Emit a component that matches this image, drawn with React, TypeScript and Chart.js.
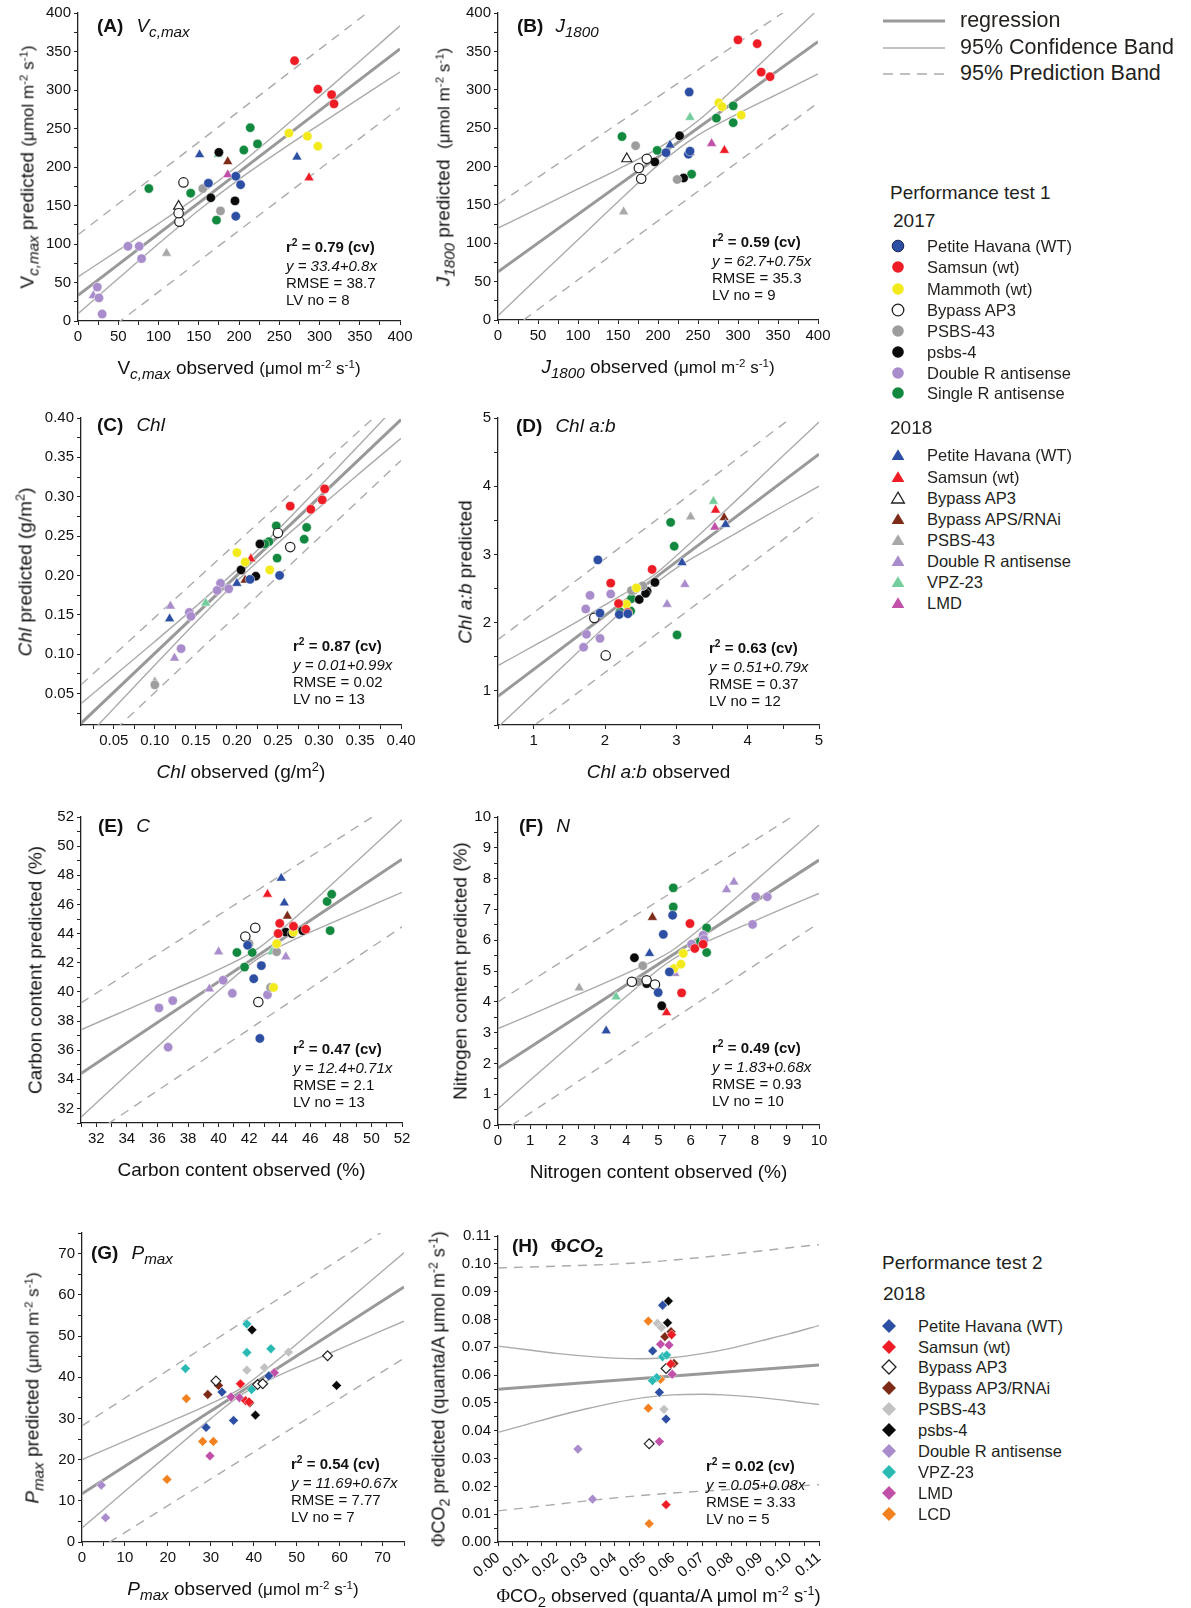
import { useEffect, useRef } from 'react';
import { Chart, ScatterController, LineController, LineElement, PointElement, LinearScale } from 'chart.js';

Chart.register(ScatterController, LineController, LineElement, PointElement, LinearScale);

const FONT = '"Liberation Sans", Arial, Helvetica, sans-serif';
const SERIF = '"Liberation Serif", "DejaVu Serif", serif';

type Pt = [string, number, number];
type XY = [number, number];

// ---------- (A) Vc,max ----------
const VCMAX_TICKS = [0, 50, 100, 150, 200, 250, 300, 350, 400];
const VCMAX_POINTS: Pt[] = [
  ['sam17', 269, 338], ['sam17', 298, 301], ['sam17', 315, 294], ['sam17', 318, 282],
  ['mam17', 262, 244], ['mam17', 285, 240], ['mam17', 298, 227],
  ['sglR17', 88, 172], ['sglR17', 140, 166], ['sglR17', 172, 131], ['sglR17', 206, 222], ['sglR17', 214, 251], ['sglR17', 223, 230],
  ['ph17', 162, 179], ['ph17', 196, 136], ['ph17', 196, 188], ['ph17', 202, 177],
  ['psbs4_17', 175, 219], ['psbs4_17', 165, 160], ['psbs4_17', 195, 156],
  ['psbs43_17', 155, 172], ['psbs43_17', 177, 143],
  ['ap3_17', 131, 180], ['ap3_17', 126, 129], ['ap3_17', 125, 140],
  ['dblR17', 62, 97], ['dblR17', 76, 97], ['dblR17', 79, 81], ['dblR17', 24, 44], ['dblR17', 26, 30], ['dblR17', 30, 9],
  ['ph18', 151, 216], ['ph18', 272, 213],
  ['sam18', 287, 186],
  ['vpz18', 174, 216],
  ['rnai18', 186, 207],
  ['lmd18', 186, 190],
  ['psbs43_18', 110, 88],
  ['ap3_18', 125, 149],
  ['dblR18', 19, 33],
];
const VCMAX_REG: XY[] = [[0, 33.4], [400, 353.4]];
const VCMAX_CI_UP: XY[] = [[0, 57.4], [50, 91.7], [100, 126.5], [150, 162.9], [200, 202.9], [250, 246.5], [300, 291.7], [350, 337.4], [400, 383.4]];
const VCMAX_CI_LO: XY[] = [[0, 9.4], [50, 55.1], [100, 100.3], [150, 143.9], [200, 183.9], [250, 220.3], [300, 255.1], [350, 289.4], [400, 323.4]];
const VCMAX_PI_UP: XY[] = [[0, 112], [400, 433]];
const VCMAX_PI_LO: XY[] = [[0, -42], [400, 277]];

// ---------- (B) J1800 ----------
const J1800_TICKS = [0, 50, 100, 150, 200, 250, 300, 350, 400];
const J1800_POINTS: Pt[] = [
  ['sam17', 300, 365], ['sam17', 324, 360], ['sam17', 329, 323], ['sam17', 340, 317],
  ['mam17', 276, 283], ['mam17', 280, 278], ['mam17', 304, 267],
  ['sglR17', 155, 239], ['sglR17', 199, 221], ['sglR17', 242, 190], ['sglR17', 273, 263], ['sglR17', 294, 279], ['sglR17', 294, 257],
  ['ph17', 239, 297], ['ph17', 210, 218], ['ph17', 238, 216], ['ph17', 240, 220],
  ['ph18', 215, 228],
  ['psbs43_17', 172, 227], ['psbs43_17', 224, 183],
  ['psbs4_17', 196, 206], ['psbs4_17', 227, 240], ['psbs4_17', 232, 185],
  ['ap3_17', 176, 198], ['ap3_17', 179, 184], ['ap3_17', 186, 210],
  ['ap3_18', 161, 210],
  ['psbs43_18', 157, 141],
  ['vpz18', 240, 264],
  ['rnai18', 240, 218],
  ['lmd18', 267, 230],
  ['sam18', 283, 221],
];
const J1800_REG: XY[] = [[0, 62.7], [400, 362.7]];
const J1800_CI_UP: XY[] = [[0, 119.7], [50, 145.1], [100, 170.7], [150, 196.4], [200, 223.6], [250, 259.6], [300, 306.6], [350, 355.7], [400, 404.7]];
const J1800_CI_LO: XY[] = [[0, 5.7], [50, 55.3], [100, 104.7], [150, 154], [200, 201.8], [250, 240.8], [300, 268.8], [350, 294.7], [400, 320.7]];
const J1800_PI_UP: XY[] = [[0, 151], [400, 431]];
const J1800_PI_LO: XY[] = [[0, -24.6], [400, 283]];

// ---------- (C) Chl ----------
const CHL_TICKS = [0.05, 0.1, 0.15, 0.2, 0.25, 0.3, 0.35, 0.4];
const CHL_POINTS: Pt[] = [
  ['sam17', 0.307, 0.31], ['sam17', 0.304, 0.296], ['sam17', 0.29, 0.284], ['sam17', 0.265, 0.288],
  ['sam18', 0.217, 0.221],
  ['sglR17', 0.248, 0.263], ['sglR17', 0.285, 0.261], ['sglR17', 0.282, 0.246], ['sglR17', 0.249, 0.222], ['sglR17', 0.239, 0.243], ['sglR17', 0.234, 0.24],
  ['psbs4_17', 0.228, 0.24], ['psbs4_17', 0.205, 0.207], ['psbs4_17', 0.223, 0.199],
  ['mam17', 0.2, 0.229], ['mam17', 0.21, 0.217], ['mam17', 0.24, 0.207],
  ['ap3_17', 0.265, 0.236], ['ap3_17', 0.25, 0.254],
  ['ph17', 0.252, 0.2], ['ph17', 0.216, 0.195],
  ['rnai18', 0.21, 0.194],
  ['ph18', 0.2, 0.19], ['ph18', 0.118, 0.145],
  ['dblR17', 0.18, 0.19], ['dblR17', 0.176, 0.181], ['dblR17', 0.19, 0.183], ['dblR17', 0.142, 0.153], ['dblR17', 0.144, 0.148], ['dblR17', 0.132, 0.107],
  ['dblR18', 0.119, 0.161], ['dblR18', 0.124, 0.095],
  ['vpz18', 0.162, 0.165],
  ['psbs43_17', 0.1, 0.061],
  ['psbs43_18', 0.1, 0.065],
];
const CHL_REG: XY[] = [[0.01, 0.012], [0.4, 0.398]];
const CHL_CI_UP: XY[] = [[0.01, 0.0371], [0.05, 0.0721], [0.1, 0.1161], [0.15, 0.1607], [0.21, 0.2169], [0.25, 0.258], [0.3, 0.3119], [0.35, 0.3667], [0.4, 0.4219]];
const CHL_CI_LO: XY[] = [[0.01, -0.0131], [0.05, 0.0311], [0.1, 0.0861], [0.15, 0.1405], [0.21, 0.2029], [0.25, 0.241], [0.3, 0.2861], [0.35, 0.3303], [0.4, 0.3741]];
const CHL_PI_UP: XY[] = [[0.01, 0.061], [0.4, 0.432]];
const CHL_PI_LO: XY[] = [[0.01, -0.037], [0.4, 0.346]];

// ---------- (D) Chl a:b ----------
const CHLAB_TICKS = [1, 2, 3, 4, 5];
const CHLAB_POINTS: Pt[] = [
  ['ph17', 1.9, 2.92], ['ph17', 1.93, 2.14], ['ph17', 2.2, 2.12], ['ph17', 2.32, 2.13],
  ['sam17', 2.08, 2.58], ['sam17', 2.19, 2.28], ['sam17', 2.32, 2.15], ['sam17', 2.66, 2.78],
  ['dblR17', 1.79, 2.4], ['dblR17', 1.73, 2.2], ['dblR17', 2.08, 2.42], ['dblR17', 1.74, 1.83], ['dblR17', 1.93, 1.77], ['dblR17', 1.7, 1.64],
  ['ap3_17', 1.85, 2.07], ['ap3_17', 2.01, 1.52],
  ['sglR17', 2.92, 3.47], ['sglR17', 2.97, 3.12], ['sglR17', 2.36, 2.17], ['sglR17', 2.21, 2.16], ['sglR17', 3.01, 1.82], ['sglR17', 2.37, 2.35],
  ['psbs4_17', 2.48, 2.34], ['psbs4_17', 2.59, 2.46], ['psbs4_17', 2.7, 2.59], ['psbs4_17', 2.57, 2.43],
  ['psbs43_17', 2.37, 2.47], ['psbs43_17', 2.53, 2.54],
  ['mam17', 2.44, 2.51], ['mam17', 2.3, 2.27],
  ['vpz18', 3.52, 3.78],
  ['sam18', 3.55, 3.65],
  ['rnai18', 3.67, 3.54],
  ['psbs43_18', 3.2, 3.55],
  ['ph18', 3.69, 3.44], ['ph18', 3.08, 2.88],
  ['lmd18', 3.54, 3.4],
  ['dblR18', 3.12, 2.56], ['dblR18', 2.87, 2.27],
];
const CHLAB_REG: XY[] = [[0.5, 0.92], [5, 4.47]];
const CHLAB_CI_UP: XY[] = [[0.5, 1.37], [1, 1.66], [1.5, 1.95], [2, 2.26], [2.5, 2.57], [2.7, 2.71], [3, 2.98], [3.5, 3.46], [4, 3.95], [4.5, 4.45], [5, 4.94]];
const CHLAB_CI_LO: XY[] = [[0.5, 0.47], [1, 0.96], [1.5, 1.45], [2, 1.94], [2.5, 2.41], [2.7, 2.57], [3, 2.8], [3.5, 3.11], [4, 3.41], [4.5, 3.71], [5, 4.0]];
const CHLAB_PI_UP: XY[] = [[0.5, 1.75], [5, 5.31]];
const CHLAB_PI_LO: XY[] = [[0.5, 0.1], [5, 3.61]];

// ---------- (E) C ----------
const CARBON_TICKS = [32, 34, 36, 38, 40, 42, 44, 46, 48, 50, 52];
const CARBON_POINTS: Pt[] = [
  ['dblR17', 36.1, 38.9], ['dblR17', 37.0, 39.4], ['dblR17', 36.7, 36.2], ['dblR17', 40.3, 40.8], ['dblR17', 40.9, 39.9], ['dblR17', 43.2, 39.8],
  ['dblR18', 39.4, 40.2], ['dblR18', 40.0, 42.75], ['dblR18', 44.4, 42.4],
  ['ph17', 42.7, 36.8], ['ph17', 42.3, 40.9], ['ph17', 42.8, 41.8], ['ph17', 41.9, 43.2],
  ['ph18', 44.1, 47.8], ['ph18', 44.3, 46.1],
  ['sam18', 43.2, 46.7],
  ['rnai18', 44.5, 45.2],
  ['ap3_17', 41.75, 43.8], ['ap3_17', 42.4, 44.4], ['ap3_17', 42.6, 39.3],
  ['psbs43_17', 42.0, 43.3], ['psbs43_17', 43.8, 42.75], ['psbs43_17', 43.4, 40.3],
  ['mam17', 43.6, 40.3], ['mam17', 43.8, 43.3], ['mam17', 44.9, 44.1],
  ['sglR17', 41.2, 42.7], ['sglR17', 41.7, 41.7], ['sglR17', 42.2, 42.7], ['sglR17', 47.1, 46.2], ['sglR17', 47.4, 46.7], ['sglR17', 47.3, 44.2],
  ['vpz18', 43.5, 42.75],
  ['sam17', 44.0, 44.7], ['sam17', 43.9, 44.0], ['sam17', 44.9, 44.5], ['sam17', 45.7, 44.3],
  ['psbs4_17', 44.4, 44.1], ['psbs4_17', 44.8, 44.0], ['psbs4_17', 45.5, 44.2],
];
const CARBON_REG: XY[] = [[31, 34.4], [52, 49.1]];
const CARBON_CI_UP: XY[] = [[31, 37.4], [34, 38.77], [37, 40.14], [40, 41.53], [42.5, 42.92], [45, 45.08], [48, 47.95], [52, 51.81]];
const CARBON_CI_LO: XY[] = [[31, 31.4], [34, 34.31], [37, 37.2], [40, 40.07], [42.5, 42.23], [45, 43.62], [48, 45.01], [52, 46.83]];
const CARBON_PI_UP: XY[] = [[31, 39.24], [52, 53.3]];
const CARBON_PI_LO: XY[] = [[31, 29.7], [52, 44.46]];

// ---------- (F) N ----------
const NITROGEN_TICKS = [0, 1, 2, 3, 4, 5, 6, 7, 8, 9, 10];
const NITROGEN_POINTS: Pt[] = [
  ['psbs43_18', 2.53, 4.45],
  ['ph18', 3.37, 3.06], ['ph18', 4.72, 5.57],
  ['vpz18', 3.68, 4.16],
  ['psbs4_17', 4.25, 5.43], ['psbs4_17', 4.63, 4.59], ['psbs4_17', 5.1, 3.87],
  ['psbs43_17', 4.51, 5.17], ['psbs43_17', 4.37, 4.65],
  ['ap3_17', 4.17, 4.65], ['ap3_17', 4.63, 4.7], ['ap3_17', 4.89, 4.56],
  ['rnai18', 4.81, 6.74],
  ['ph17', 5.15, 6.19], ['ph17', 5.44, 6.81], ['ph17', 4.99, 4.3], ['ph17', 5.34, 4.97],
  ['sglR17', 5.46, 7.7], ['sglR17', 5.46, 7.08], ['sglR17', 6.5, 6.4], ['sglR17', 6.5, 5.6], ['sglR17', 6.3, 5.95],
  ['sam17', 5.98, 6.54], ['sam17', 5.72, 4.29], ['sam17', 6.13, 5.73], ['sam17', 6.39, 5.87],
  ['sam18', 5.25, 3.65],
  ['mam17', 5.49, 5.08], ['mam17', 5.7, 5.22], ['mam17', 5.77, 5.57],
  ['dblR18', 5.51, 4.92], ['dblR18', 7.12, 7.64], ['dblR18', 7.35, 7.89],
  ['dblR17', 8.03, 7.41], ['dblR17', 8.39, 7.41], ['dblR17', 7.93, 6.51], ['dblR17', 6.39, 6.16], ['dblR17', 6.42, 6.02], ['dblR17', 6.03, 5.87],
];
const NITROGEN_REG: XY[] = [[0, 1.85], [10, 8.6]];
const NITROGEN_CI_UP: XY[] = [[0, 3.13], [1, 3.57], [2, 4.02], [3, 4.46], [4, 4.92], [5, 5.41], [5.4, 5.65], [6, 6.12], [7, 7.0], [8, 7.91], [9, 8.82], [10, 9.74]];
const NITROGEN_CI_LO: XY[] = [[0, 0.53], [1, 1.45], [2, 2.36], [3, 3.28], [4, 4.18], [5, 5.05], [5.4, 5.35], [6, 5.7], [7, 6.18], [8, 6.63], [9, 7.08], [10, 7.52]];
const NITROGEN_PI_UP: XY[] = [[0, 4.0], [10, 10.56]];
const NITROGEN_PI_LO: XY[] = [[0, -0.3], [10, 6.56]];

// ---------- (G) Pmax ----------
const PMAX_TICKS = [0, 10, 20, 30, 40, 50, 60, 70];
const PMAX_POINTS: Pt[] = [
  ['dblR', 4.5, 13.8], ['dblR', 5.5, 5.9],
  ['lcd', 19.8, 15.2], ['lcd', 24.3, 34.8], ['lcd', 28.1, 24.4], ['lcd', 30.6, 24.4],
  ['lmd', 29.8, 20.9], ['lmd', 34.7, 35.2], ['lmd', 36.7, 35.0], ['lmd', 44.8, 41.1],
  ['vpz', 24.1, 42.1], ['vpz', 38.4, 52.9], ['vpz', 38.4, 46.0], ['vpz', 44.0, 46.9], ['vpz', 39.5, 37.0],
  ['psbs4', 39.6, 51.5], ['psbs4', 40.4, 30.8], ['psbs4', 59.3, 38.0],
  ['rnai', 29.3, 35.8], ['rnai', 31.8, 38.0], ['rnai', 39.1, 33.8],
  ['ph', 28.9, 27.8], ['ph', 32.6, 36.4], ['ph', 35.3, 29.5], ['ph', 43.5, 40.3],
  ['sam', 36.9, 38.4], ['sam', 38.1, 34.3], ['sam', 38.9, 34.0],
  ['psbs43', 38.4, 41.7], ['psbs43', 42.5, 42.3], ['psbs43', 48.1, 46.1],
  ['ap3', 31.2, 39.1], ['ap3', 40.9, 38.2], ['ap3', 42.1, 38.4], ['ap3', 57.2, 45.2],
];
const PMAX_REG: XY[] = [[0, 11.7], [75, 61.9]];
const PMAX_CI_UP: XY[] = [[0, 20.0], [10, 24.5], [20, 29.0], [30, 33.6], [37.5, 37.6], [45, 43.7], [55, 52.5], [65, 61.35], [75, 70.2]];
const PMAX_CI_LO: XY[] = [[0, 3.4], [10, 12.3], [20, 21.15], [30, 29.95], [37.5, 36.0], [45, 40.0], [55, 44.6], [65, 49.1], [75, 53.6]];
const PMAX_PI_UP: XY[] = [[0, 28.2], [75, 78.7]];
const PMAX_PI_LO: XY[] = [[0, -4.2], [75, 44.6]];

// ---------- (H) PhiCO2 ----------
const PHI_TICKS = [0, 0.01, 0.02, 0.03, 0.04, 0.05, 0.06, 0.07, 0.08, 0.09, 0.1, 0.11];
const PHI_POINTS: Pt[] = [
  ['dblR', 0.0274, 0.0334], ['dblR', 0.0324, 0.0154],
  ['lcd', 0.0515, 0.0794], ['lcd', 0.0515, 0.0481], ['lcd', 0.0518, 0.0066], ['lcd', 0.0557, 0.0585],
  ['ph', 0.0564, 0.0851], ['ph', 0.053, 0.0687], ['ph', 0.0553, 0.0538], ['ph', 0.0576, 0.0442],
  ['psbs43', 0.0546, 0.0786], ['psbs43', 0.056, 0.0771], ['psbs43', 0.0569, 0.0477],
  ['rnai', 0.0593, 0.0756], ['rnai', 0.0572, 0.0738], ['rnai', 0.0603, 0.0642],
  ['sam', 0.0595, 0.0745], ['sam', 0.0592, 0.064], ['sam', 0.0576, 0.0134],
  ['lmd', 0.0557, 0.0711], ['lmd', 0.0586, 0.0708], ['lmd', 0.0597, 0.0603], ['lmd', 0.0553, 0.0361],
  ['vpz', 0.0564, 0.0666], ['vpz', 0.0578, 0.0672], ['vpz', 0.0544, 0.0591], ['vpz', 0.0529, 0.058],
  ['ap3', 0.0576, 0.0624], ['ap3', 0.0518, 0.0353],
  ['psbs4', 0.0584, 0.0866], ['psbs4', 0.0581, 0.0788],
];
const PHI_REG: XY[] = [[0, 0.0549], [0.11, 0.0636]];
const PHI_CI_UP: XY[] = [[0, 0.0704], [0.01, 0.0691], [0.02, 0.0678], [0.03, 0.0668], [0.04, 0.0661], [0.05, 0.0659], [0.06, 0.0663], [0.07, 0.0677], [0.08, 0.0697], [0.09, 0.0723], [0.1, 0.0749], [0.11, 0.0778]];
const PHI_CI_LO: XY[] = [[0, 0.0394], [0.01, 0.0423], [0.02, 0.0452], [0.03, 0.0478], [0.04, 0.0501], [0.05, 0.0519], [0.06, 0.0529], [0.07, 0.0531], [0.08, 0.0527], [0.09, 0.0519], [0.1, 0.0507], [0.11, 0.0494]];
const PHI_PI_UP: XY[] = [[0, 0.0985], [0.05, 0.1005], [0.11, 0.1069]];
const PHI_PI_LO: XY[] = [[0, 0.0112], [0.05, 0.0168], [0.11, 0.0206]];

// marker styles per genotype / year
const BLUE = '#2C4EA3';
const RED = '#EE1C25';
const YELLOW = '#F3EA1C';
const GRAY = '#9D9D9D';
const BLACK = '#0A0A0A';
const PURPLE = '#A98CCB';
const GREEN = '#12893F';
const BROWN = '#7D2A17';
const LMD = '#C150A9';

type Shape = 'circle' | 'triangle' | 'rectRot';
const GROUP_STYLE: Record<string, { c: string; s: Shape; open?: boolean }> = {
  ph17: { c: BLUE, s: 'circle' },
  sam17: { c: RED, s: 'circle' },
  mam17: { c: YELLOW, s: 'circle' },
  ap3_17: { c: '#fff', s: 'circle', open: true },
  psbs43_17: { c: GRAY, s: 'circle' },
  psbs4_17: { c: BLACK, s: 'circle' },
  dblR17: { c: PURPLE, s: 'circle' },
  sglR17: { c: GREEN, s: 'circle' },
  ph18: { c: BLUE, s: 'triangle' },
  sam18: { c: RED, s: 'triangle' },
  ap3_18: { c: '#fff', s: 'triangle', open: true },
  rnai18: { c: BROWN, s: 'triangle' },
  psbs43_18: { c: '#A8A8A8', s: 'triangle' },
  dblR18: { c: PURPLE, s: 'triangle' },
  vpz18: { c: '#74CD9C', s: 'triangle' },
  lmd18: { c: LMD, s: 'triangle' },
  ph: { c: BLUE, s: 'rectRot' },
  sam: { c: RED, s: 'rectRot' },
  ap3: { c: '#fff', s: 'rectRot', open: true },
  rnai: { c: BROWN, s: 'rectRot' },
  psbs43: { c: '#C2C2C2', s: 'rectRot' },
  psbs4: { c: BLACK, s: 'rectRot' },
  dblR: { c: PURPLE, s: 'rectRot' },
  vpz: { c: '#2BBAB3', s: 'rectRot' },
  lmd: { c: LMD, s: 'rectRot' },
  lcd: { c: '#F4811F', s: 'rectRot' },
};
const GROUP_ORDER = Object.keys(GROUP_STYLE);
const RADIUS: Record<Shape, number> = { circle: 4.7, triangle: 5.8, rectRot: 4.9 };

const LEGEND_2017: [string, string][] = [
  ['ph17', 'Petite Havana (WT)'], ['sam17', 'Samsun (wt)'], ['mam17', 'Mammoth (wt)'], ['ap3_17', 'Bypass AP3'],
  ['psbs43_17', 'PSBS-43'], ['psbs4_17', 'psbs-4'], ['dblR17', 'Double R antisense'], ['sglR17', 'Single R antisense'],
];
const LEGEND_2018: [string, string][] = [
  ['ph18', 'Petite Havana (WT)'], ['sam18', 'Samsun (wt)'], ['ap3_18', 'Bypass AP3'], ['rnai18', 'Bypass APS/RNAi'],
  ['psbs43_18', 'PSBS-43'], ['dblR18', 'Double R antisense'], ['vpz18', 'VPZ-23'], ['lmd18', 'LMD'],
];
const LEGEND_T2: [string, string][] = [
  ['ph', 'Petite Havana (WT)'], ['sam', 'Samsun (wt)'], ['ap3', 'Bypass AP3'], ['rnai', 'Bypass AP3/RNAi'],
  ['psbs43', 'PSBS-43'], ['psbs4', 'psbs-4'], ['dblR', 'Double R antisense'], ['vpz', 'VPZ-23'], ['lmd', 'LMD'], ['lcd', 'LCD'],
];

const REG_COLOR = '#999999';
const BAND_COLOR = '#ABABAB';
const PAD_L = 70;
const PAD_T = 14;
const PAD_R = 25;

const Sub = ({ children, it }: any) => (
  <span style={{ fontSize: '0.8em', position: 'relative', top: '0.32em', fontStyle: it ? 'italic' : undefined }}>{children}</span>
);
const Sup = ({ children }: any) => (
  <span style={{ fontSize: '0.68em', position: 'relative', top: '-0.55em' }}>{children}</span>
);
const Umol = () => (
  <span style={{ fontSize: 17 }}>(μmol m<Sup>-2</Sup> s<Sup>-1</Sup>)</span>
);
const Phi = () => <span style={{ fontFamily: SERIF }}>Φ</span>;

interface PanelCfg {
  key: string;
  points: Pt[];
  reg: XY[];
  ciUp: XY[];
  ciLo: XY[];
  piUp: XY[];
  piLo: XY[];
  ticks: number[];
  min: number;
  max: number;
  minor: number;
  dec: number;
  rot?: number;
  box: [number, number, number, number];
  title: any;
  titlePos: [number, number];
  stats: [string, string, string, string];
  statsPos: [number, number];
  yTitle: any;
  yTitleX: number;
  xTitle: any;
  xTitleY: number;
}

const PANELS: PanelCfg[] = [
  {
    key: 'A', points: VCMAX_POINTS, reg: VCMAX_REG, ciUp: VCMAX_CI_UP, ciLo: VCMAX_CI_LO, piUp: VCMAX_PI_UP, piLo: VCMAX_PI_LO,
    ticks: VCMAX_TICKS, min: 0, max: 400, minor: 25, dec: 0, box: [78, 13, 400, 321],
    title: <><b>(A)</b><i style={{ marginLeft: 13 }}>V<Sub>c,max</Sub></i></>, titlePos: [97, 25],
    stats: ['0.79', '33.4+0.8x', '38.7', '8'], statsPos: [286, 246],
    yTitle: <>V<Sub it>c,max</Sub> predicted <Umol /></>, yTitleX: 27,
    xTitle: <>V<Sub it>c,max</Sub> observed <Umol /></>, xTitleY: 367,
  },
  {
    key: 'B', points: J1800_POINTS, reg: J1800_REG, ciUp: J1800_CI_UP, ciLo: J1800_CI_LO, piUp: J1800_PI_UP, piLo: J1800_PI_LO,
    ticks: J1800_TICKS, min: 0, max: 400, minor: 25, dec: 0, box: [498, 13, 818, 320],
    title: <><b>(B)</b><i style={{ marginLeft: 12 }}>J<Sub>1800</Sub></i></>, titlePos: [517, 25],
    stats: ['0.59', '62.7+0.75x', '35.3', '9'], statsPos: [712, 241],
    yTitle: <><i>J</i><Sub it>1800</Sub> predicted&nbsp; <Umol /></>, yTitleX: 443,
    xTitle: <><i>J</i><Sub it>1800</Sub> observed <Umol /></>, xTitleY: 366,
  },
  {
    key: 'C', points: CHL_POINTS, reg: CHL_REG, ciUp: CHL_CI_UP, ciLo: CHL_CI_LO, piUp: CHL_PI_UP, piLo: CHL_PI_LO,
    ticks: CHL_TICKS, min: 0.01, max: 0.4, minor: 0.025, dec: 2, box: [81, 418, 401, 725],
    title: <><b>(C)</b><i style={{ marginLeft: 13 }}>Chl</i></>, titlePos: [97, 424],
    stats: ['0.87', '0.01+0.99x', '0.02', '13'], statsPos: [293, 645],
    yTitle: <><i>Chl</i> predicted (g/m<Sup>2</Sup>)</>, yTitleX: 25,
    xTitle: <><i>Chl</i> observed (g/m<Sup>2</Sup>)</>, xTitleY: 771,
  },
  {
    key: 'D', points: CHLAB_POINTS, reg: CHLAB_REG, ciUp: CHLAB_CI_UP, ciLo: CHLAB_CI_LO, piUp: CHLAB_PI_UP, piLo: CHLAB_PI_LO,
    ticks: CHLAB_TICKS, min: 0.5, max: 5, minor: 0.5, dec: 0, box: [498, 418, 819, 725],
    title: <><b>(D)</b><i style={{ marginLeft: 13 }}>Chl a:b</i></>, titlePos: [516, 425],
    stats: ['0.63', '0.51+0.79x', '0.37', '12'], statsPos: [709, 647],
    yTitle: <><i>Chl a:b</i> predicted</>, yTitleX: 465,
    xTitle: <><i>Chl a:b</i> observed</>, xTitleY: 771,
  },
  {
    key: 'E', points: CARBON_POINTS, reg: CARBON_REG, ciUp: CARBON_CI_UP, ciLo: CARBON_CI_LO, piUp: CARBON_PI_UP, piLo: CARBON_PI_LO,
    ticks: CARBON_TICKS, min: 31, max: 52, minor: 1, dec: 0, box: [81, 817, 402, 1123],
    title: <><b>(E)</b><i style={{ marginLeft: 13 }}>C</i></>, titlePos: [98, 825],
    stats: ['0.47', '12.4+0.71x', '2.1', '13'], statsPos: [293, 1048],
    yTitle: <>Carbon content predicted (%)</>, yTitleX: 35,
    xTitle: <>Carbon content observed (%)</>, xTitleY: 1169,
  },
  {
    key: 'F', points: NITROGEN_POINTS, reg: NITROGEN_REG, ciUp: NITROGEN_CI_UP, ciLo: NITROGEN_CI_LO, piUp: NITROGEN_PI_UP, piLo: NITROGEN_PI_LO,
    ticks: NITROGEN_TICKS, min: 0, max: 10, minor: 0.5, dec: 0, box: [498, 817, 819, 1125],
    title: <><b>(F)</b><i style={{ marginLeft: 13 }}>N</i></>, titlePos: [519, 825],
    stats: ['0.49', '1.83+0.68x', '0.93', '10'], statsPos: [712, 1047],
    yTitle: <>Nitrogen content predicted (%)</>, yTitleX: 460,
    xTitle: <>Nitrogen content observed (%)</>, xTitleY: 1171,
  },
  {
    key: 'G', points: PMAX_POINTS, reg: PMAX_REG, ciUp: PMAX_CI_UP, ciLo: PMAX_CI_LO, piUp: PMAX_PI_UP, piLo: PMAX_PI_LO,
    ticks: PMAX_TICKS, min: 0, max: 75, minor: 5, dec: 0, box: [82, 1233, 404, 1542],
    title: <><b>(G)</b><i style={{ marginLeft: 13 }}>P<Sub>max</Sub></i></>, titlePos: [91, 1252],
    stats: ['0.54', '11.69+0.67x', '7.77', '7'], statsPos: [291, 1463],
    yTitle: <><i>P</i><Sub it>max</Sub> predicted <Umol /></>, yTitleX: 32,
    xTitle: <><i>P</i><Sub it>max</Sub> observed <Umol /></>, xTitleY: 1588,
  },
  {
    key: 'H', points: PHI_POINTS, reg: PHI_REG, ciUp: PHI_CI_UP, ciLo: PHI_CI_LO, piUp: PHI_PI_UP, piLo: PHI_PI_LO,
    ticks: PHI_TICKS, min: 0, max: 0.11, minor: 0.005, dec: 2, rot: 40, box: [498, 1236, 819, 1542],
    title: <><b>(H)</b><b style={{ marginLeft: 12 }}><Phi /><i>CO</i><Sub>2</Sub></b></>, titlePos: [512, 1245],
    stats: ['0.02', '0.05+0.08x', '3.33', '5'], statsPos: [706, 1465],
    yTitle: <span style={{ fontSize: 18 }}><Phi />CO<Sub>2</Sub> predicted (quanta/A μmol m<Sup>-2</Sup> s<Sup>-1</Sup>)</span>, yTitleX: 438,
    xTitle: <span style={{ fontSize: 18.5 }}><Phi />CO<Sub>2</Sub> observed (quanta/A μmol m<Sup>-2</Sup> s<Sup>-1</Sup>)</span>, xTitleY: 1596,
  },
];

function tickList(min: number, max: number, step: number): number[] {
  const out: number[] = [];
  const i0 = Math.ceil(min / step - 1e-9);
  const i1 = Math.floor(max / step + 1e-9);
  for (let i = i0; i <= i1; i++) out.push(Number((i * step).toFixed(6)));
  return out;
}

const toXY = (arr: XY[]) => arr.map(([x, y]) => ({ x, y }));

function ScatterPanel({ p }: { p: PanelCfg }) {
  const canvasRef = useRef(null as HTMLCanvasElement | null);
  const [l, t, r, b] = p.box;
  const padB = p.rot ? 72 : 44;
  const w = r - l + PAD_L + PAD_R;
  const h = b - t + PAD_T + padB;

  useEffect(() => {
    if (!canvasRef.current) return;
    const ctx = canvasRef.current.getContext('2d');
    if (!ctx) return;

    const tickVals = tickList(p.min, p.max, p.minor);
    const label = (v: number) =>
      p.ticks.some(m => Math.abs(m - v) < p.minor * 0.01) ? v.toFixed(p.dec) : '';

    const axis = (isX: boolean) => ({
      type: 'linear',
      min: p.min,
      max: p.max,
      afterBuildTicks: (s: any) => { s.ticks = tickVals.map(v => ({ value: v })); },
      afterFit: (s: any) => {
        if (isX) s.height = padB; else s.width = PAD_L;
      },
      grid: { display: true, drawOnChartArea: false, drawTicks: true, tickLength: 4, tickColor: '#222', tickWidth: 1 },
      border: { display: true, color: '#222', width: 1.3 },
      ticks: {
        autoSkip: false,
        padding: 3,
        color: '#111',
        font: { family: FONT, size: 15 },
        maxRotation: isX ? (p.rot || 0) : 0,
        minRotation: isX ? (p.rot || 0) : 0,
        callback: (v: any) => label(Number(v)),
      },
    });

    // regression and band curves as line datasets on the linear x scale
    const line = (data: XY[], width: number, color: string, dash: number[] = [], curved = false) => ({
      type: 'line',
      data: toXY(data),
      pointRadius: 0,
      borderColor: color,
      borderWidth: width,
      borderDash: dash,
      tension: curved ? 0.4 : 0,
      cubicInterpolationMode: curved ? 'monotone' : 'default',
      fill: false,
      order: 10,
    });

    const pointSets = GROUP_ORDER
      .filter(g => p.points.some(pt => pt[0] === g))
      .map(g => {
        const st = GROUP_STYLE[g];
        return {
          type: 'scatter',
          data: p.points.filter(pt => pt[0] === g).map(pt => ({ x: pt[1], y: pt[2] })),
          pointStyle: st.s,
          pointRadius: RADIUS[st.s],
          backgroundColor: st.c,
          borderColor: st.open ? '#222' : 'rgba(255,255,255,0.7)',
          borderWidth: st.open ? 1.2 : 0.7,
          showLine: false,
          order: 1,
        };
      });

    const chart = new Chart(ctx, {
      type: 'scatter',
      data: {
        datasets: [
          line(p.piUp, 1.4, BAND_COLOR, [9, 7], p.piUp.length > 2),
          line(p.piLo, 1.4, BAND_COLOR, [9, 7], p.piLo.length > 2),
          line(p.ciUp, 1.4, BAND_COLOR, [], true),
          line(p.ciLo, 1.4, BAND_COLOR, [], true),
          line(p.reg, 3, REG_COLOR),
          ...pointSets,
        ] as any,
      },
      options: {
        responsive: false,
        animation: false,
        events: [],
        layout: { autoPadding: false, padding: { left: 0, top: PAD_T, right: PAD_R, bottom: 0 } },
        plugins: { legend: { display: false }, tooltip: { enabled: false } },
        scales: { x: axis(true), y: axis(false) } as any,
      } as any,
    });

    return () => {
      chart.destroy();
    };
  }, [p]);

  const cy = (t + b) / 2;
  return (
    <>
      <canvas
        ref={canvasRef}
        width={w}
        height={h}
        style={{ position: 'absolute', left: l - PAD_L, top: t - PAD_T, width: w, height: h }}
      />
      <div style={{ position: 'absolute', left: p.titlePos[0], top: p.titlePos[1], transform: 'translateY(-50%)', fontSize: 19, lineHeight: 1, whiteSpace: 'nowrap' }}>
        {p.title}
      </div>
      <div style={{ position: 'absolute', left: p.statsPos[0], top: p.statsPos[1] - 8.5, fontSize: 15, lineHeight: '17px', whiteSpace: 'nowrap' }}>
        <div><b>r<Sup>2</Sup> = {p.stats[0]} (cv)</b></div>
        <div><i>y = {p.stats[1]}</i></div>
        <div>RMSE = {p.stats[2]}</div>
        <div>LV no = {p.stats[3]}</div>
      </div>
      <div style={{ position: 'absolute', left: p.yTitleX, top: cy, transform: 'translate(-50%, -50%) rotate(-90deg)', fontSize: 19, lineHeight: 1, whiteSpace: 'nowrap' }}>
        {p.yTitle}
      </div>
      <div style={{ position: 'absolute', left: (l + r) / 2, top: p.xTitleY, transform: 'translate(-50%, -50%)', fontSize: 19, lineHeight: 1, whiteSpace: 'nowrap' }}>
        {p.xTitle}
      </div>
    </>
  );
}

function Marker({ g, x, y }: { g: string; x: number; y: number }) {
  const st = GROUP_STYLE[g];
  const fill = st.c;
  const stroke = st.open ? '#222' : g === 'ph17' ? '#17255a' : 'none';
  const sw = st.open ? 1.3 : 1;
  let shape;
  if (st.s === 'circle') shape = <circle cx={8} cy={8} r={5.8} fill={fill} stroke={stroke} strokeWidth={sw} />;
  else if (st.s === 'triangle') shape = <polygon points="8,2.2 14.4,13 1.6,13" fill={fill} stroke={stroke} strokeWidth={sw} />;
  else shape = <polygon points="8,1 15,8 8,15 1,8" fill={fill} stroke={stroke} strokeWidth={sw} />;
  return (
    <svg width={16} height={16} style={{ position: 'absolute', left: x - 8, top: y - 8 }}>{shape}</svg>
  );
}

const textAt = (x: number, y: number, size: number, content: any, key?: string) => (
  <div key={key} style={{ position: 'absolute', left: x, top: y, transform: 'translateY(-50%)', fontSize: size, lineHeight: 1, whiteSpace: 'nowrap', color: '#231f1c' }}>
    {content}
  </div>
);

function Legend() {
  const rows1 = [246, 267, 289, 310, 331, 352, 373, 393];
  const rows2 = [455, 477, 498, 519, 540, 561, 582, 603];
  const rows3 = [1326, 1347, 1367, 1388, 1409, 1430, 1451, 1472, 1493, 1514];
  const lineKeys: [number, number, number[], string][] = [
    [21, 3.2, [], 'regression'],
    [48, 1.4, [], '95% Confidence Band'],
    [74, 1.4, [10, 7], '95% Prediction Band'],
  ];
  return (
    <>
      {lineKeys.map(([y, sw, dash, txt]) => (
        <div key={txt}>
          <svg width={62} height={8} style={{ position: 'absolute', left: 883, top: y - 4 }}>
            <line x1={0} y1={4} x2={62} y2={4} stroke={sw > 2 ? REG_COLOR : BAND_COLOR} strokeWidth={sw} strokeDasharray={dash.join(' ')} />
          </svg>
          {textAt(960, y, 21.5, txt)}
        </div>
      ))}
      {textAt(890, 192, 19, 'Performance test 1')}
      {textAt(893, 220, 19, '2017')}
      {LEGEND_2017.map(([g, txt], i) => (
        <div key={'a' + g}>
          <Marker g={g} x={898} y={rows1[i]} />
          {textAt(927, rows1[i], 16.5, txt)}
        </div>
      ))}
      {textAt(890, 427, 19, '2018')}
      {LEGEND_2018.map(([g, txt], i) => (
        <div key={'b' + g}>
          <Marker g={g} x={898} y={rows2[i]} />
          {textAt(927, rows2[i], 16.5, txt)}
        </div>
      ))}
      {textAt(882, 1262, 19, 'Performance test 2')}
      {textAt(883, 1293, 19, '2018')}
      {LEGEND_T2.map(([g, txt], i) => (
        <div key={'c' + g}>
          <Marker g={g} x={889} y={rows3[i]} />
          {textAt(918, rows3[i], 16.5, txt)}
        </div>
      ))}
    </>
  );
}

export default function App() {
  return (
    <div style={{ position: 'absolute', left: 0, top: 0, width: 1191, height: 1608, background: '#fff', fontFamily: FONT, color: '#111', overflow: 'hidden' }}>
      {PANELS.map(p => <ScatterPanel key={p.key} p={p} />)}
      <Legend />
    </div>
  );
}
